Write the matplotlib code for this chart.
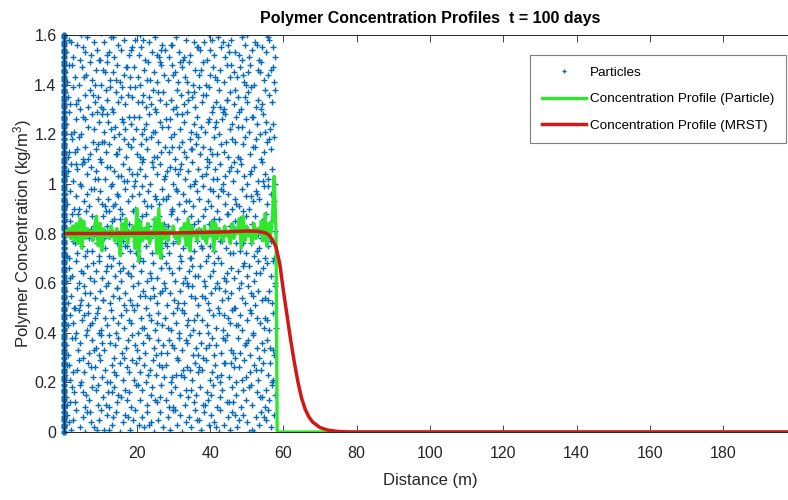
import numpy as np
import matplotlib
matplotlib.use('Agg')
import matplotlib.pyplot as plt
from matplotlib.ticker import FormatStrFormatter

plt.rcParams['font.family'] = ['Liberation Sans', 'DejaVu Sans']
plt.rcParams['mathtext.default'] = 'regular'

# MRST concentration profile (m, kg/m^3)
mrst_x = [0, 10, 20, 30, 40, 45, 50, 53, 55, 56, 57, 58, 59, 60, 61, 62, 63, 64,
          65, 66, 67, 68, 70, 72, 75, 78, 100, 200]
mrst_c = [0.800, 0.800, 0.801, 0.802, 0.805, 0.807, 0.810, 0.809, 0.803, 0.795,
          0.775, 0.745, 0.68, 0.57, 0.47, 0.37, 0.28, 0.20, 0.135, 0.09, 0.06,
          0.04, 0.018, 0.008, 0.002, 0, 0, 0]

# particle-based profile, binned every 0.5 m up to the front
bin_x = list(np.arange(0, 57.1, 0.5))
bin_c = [0.80, 0.81, 0.79, 0.82, 0.78, 0.83, 0.77, 0.84, 0.76, 0.86,
         0.74, 0.85, 0.78, 0.82, 0.79, 0.81, 0.77, 0.83, 0.87, 0.75,
         0.84, 0.73, 0.82, 0.79, 0.81, 0.78, 0.83, 0.80, 0.77, 0.82,
         0.79, 0.71, 0.84, 0.78, 0.86, 0.76, 0.81, 0.79, 0.83, 0.74,
         0.90, 0.69, 0.85, 0.77, 0.82, 0.78, 0.84, 0.76, 0.81, 0.79,
         0.86, 0.72, 0.90, 0.70, 0.84, 0.78, 0.82, 0.77, 0.81, 0.80,
         0.83, 0.78, 0.80, 0.76, 0.82, 0.79, 0.84, 0.75, 0.86, 0.73,
         0.83, 0.79, 0.81, 0.77, 0.82, 0.80, 0.78, 0.83, 0.76, 0.81,
         0.79, 0.85, 0.73, 0.84, 0.78, 0.82, 0.80, 0.77, 0.83, 0.79,
         0.81, 0.76, 0.84, 0.78, 0.82, 0.80, 0.86, 0.74, 0.87, 0.77,
         0.83, 0.79, 0.81, 0.76, 0.84, 0.78, 0.82, 0.80, 0.85, 0.77,
         0.88, 0.75, 0.84, 0.79, 0.86]
front_x = [57.5, 58.0, 58.3, 200]
front_c = [1.03, 0.80, 0.0, 0.0]

# particle positions: x in 0.1 m, value in 0.01 kg/m^3
part_x = [
    4, 9, 21, 27, 33, 46, 52, 58, 71, 75, 84, 97, 101, 110, 118, 131, 136, 142, 155, 163, 168, 181, 189, 194, 206, 213, 221, 229, 240, 246, 259, 264, 272, 285, 291, 298, 310, 317, 322, 335, 343, 349, 358, 370, 376, 384, 397, 402, 411, 423, 428, 437, 449, 455, 461, 474, 480, 489, 501, 506, 514, 526, 533, 540, 552, 557, 566, 574, 15, 64, 124, 176, 233, 303, 364, 417, 468, 521, 547, 92,
    6, 10, 24, 29, 31, 44, 59, 62, 70, 88, 93, 95, 108, 121, 125, 139, 146, 150, 167, 172, 180, 183, 199, 210, 214, 227, 238, 241, 256, 262, 267, 281, 294, 300, 305, 319, 331, 334, 340, 356, 361, 373, 380, 392, 395, 409, 420, 426, 433, 445, 459, 463, 470, 484, 490, 497, 512, 515, 528, 536, 549, 553, 561, 570, 577, 17, 52, 79, 115, 158, 203, 249, 288, 347, 402, 451, 505, 543, 133, 385,
    3, 15, 19, 36, 41, 48, 57, 66, 81, 86, 99, 104, 113, 127, 132, 144, 153, 161, 174, 178, 192, 197, 208, 219, 225, 236, 244, 253, 269, 274, 279, 292, 307, 313, 326, 329, 338, 351, 359, 366, 379, 388, 399, 406, 414, 427, 431, 442, 452, 466, 471, 478, 493, 499, 508, 520, 531, 538, 545, 559, 564, 572, 26, 74, 118, 186, 231, 261, 297, 345, 371, 418, 457, 486, 525, 568, 9, 139, 320, 437,
    8, 12, 22, 39, 45, 53, 61, 69, 77, 90, 96, 106, 111, 123, 137, 141, 148, 159, 170, 176, 187, 201, 205, 216, 223, 234, 247, 252, 258, 271, 283, 289, 296, 309, 315, 324, 337, 344, 353, 362, 374, 381, 389, 404, 410, 416, 429, 440, 447, 456, 467, 475, 482, 495, 503, 510, 518, 529, 542, 548, 555, 563, 575, 30, 83, 128, 165, 195, 229, 266, 301, 333, 367, 396, 435, 462, 498, 534, 571, 102,
    2, 18, 25, 34, 43, 50, 63, 68, 73, 87, 91, 103, 112, 119, 129, 143, 149, 157, 166, 179, 185, 193, 204, 212, 220, 232, 239, 250, 257, 268, 278, 286, 299, 306, 316, 323, 336, 341, 354, 363, 369, 378, 391, 398, 407, 415, 425, 434, 448, 454, 460, 472, 483, 488, 500, 511, 517, 527, 535, 546, 556, 562, 573, 13, 56, 98, 135, 171, 215, 255, 293, 328, 357, 393, 439, 477, 509, 551, 579, 78,
    5, 11, 20, 32, 38, 49, 55, 67, 72, 85, 94, 100, 109, 117, 126, 134, 147, 152, 164, 169, 182, 190, 200, 209, 218, 226, 235, 243, 254, 263, 276, 282, 290, 302, 311, 318, 330, 339, 348, 360, 368, 377, 386, 394, 403, 413, 422, 432, 441, 450, 458, 469, 479, 487, 496, 504, 516, 523, 532, 541, 550, 560, 569, 576, 28, 60, 107, 145, 188, 222, 270, 312, 352, 387, 424, 465, 513, 558, 44, 248,
    7, 14, 23, 35, 42, 54, 65, 71, 80, 89, 98, 105, 116, 122, 130, 140, 151, 156, 162, 175, 184, 191, 202, 211, 217, 228, 237, 245, 255, 265, 273, 280, 295, 304, 314, 321, 332, 342, 350, 358, 372, 383, 390, 400, 408, 419, 430, 438, 446, 457, 464, 476, 485, 492, 502, 507, 519, 530, 537, 544, 554, 565, 578, 47, 84, 120, 177, 206, 240, 287, 325, 366, 410, 443, 490, 524, 571, 19, 154, 336,
    1, 16, 27, 37, 40, 51, 58, 70, 79, 92, 97, 110, 114, 128, 136, 145, 158, 163, 173, 181, 195, 203, 210, 224, 230, 242, 251, 259, 270, 277, 288, 298, 303, 317, 327, 335, 345, 355, 364, 375, 384, 393, 401, 412, 421, 433, 444, 451, 462, 470, 481, 494, 499, 512, 521, 533, 539, 550, 558, 567, 574, 31, 64, 88, 125, 168, 198, 235, 266, 309, 347, 379, 417, 455, 489, 527, 563, 10, 283, 426,
    4, 13, 22, 30, 44, 49, 61, 74, 78, 91, 101, 107, 118, 124, 133, 146, 153, 160, 171, 180, 189, 199, 207, 219, 226, 233, 246, 253, 261, 275, 284, 292, 301, 310, 322, 329, 340, 349, 361, 367, 380, 389, 397, 405, 418, 424, 436, 445, 453, 467, 473, 482, 491, 505, 514, 522, 531, 543, 552, 561, 570, 577, 39, 83, 139, 184, 214, 257, 296, 338, 375, 411, 459, 498, 540, 18, 115, 222, 356, 448,
    9, 17, 28, 33, 47, 56, 64, 69, 82, 93, 99, 112, 121, 129, 141, 147, 155, 167, 177, 186, 194, 205, 213, 221, 231, 239, 249, 260, 268, 279, 285, 297, 308, 316, 326, 334, 346, 354, 363, 371, 382, 395, 402, 409, 422, 429, 440, 449, 461, 468, 478, 487, 497, 506, 516, 525, 534, 547, 555, 566, 575, 3, 42, 76, 106, 150, 192, 228, 271, 311, 343, 385, 434, 472, 511, 559, 135, 252, 399, 528,
    6, 20, 26, 38, 45, 57, 63, 75, 86, 90, 102, 113, 119, 131, 138, 149, 161, 166, 178, 187, 196, 208, 215, 223, 236, 244, 254, 262, 273, 282, 291, 299, 313, 320, 331, 339, 351, 359, 368, 377, 388, 396, 407, 414, 427, 435, 442, 456, 463, 474, 484, 493, 501, 513, 520, 530, 541, 549, 557, 568, 576, 12, 51, 95, 127, 172, 201, 241, 277, 319, 357, 391, 420, 466, 508, 545, 34, 157, 304, 452,
    2, 11, 24, 31, 43, 52, 60, 72, 80, 89, 100, 106, 117, 125, 137, 143, 152, 164, 170, 183, 190, 200, 211, 218, 229, 238, 247, 258, 265, 276, 287, 294, 305, 315, 323, 333, 344, 352, 362, 373, 381, 392, 400, 411, 419, 431, 439, 450, 460, 469, 477, 490, 496, 509, 518, 526, 538, 546, 556, 565, 574, 36, 67, 111, 147, 176, 225, 255, 297, 328, 366, 404, 444, 483, 522, 561, 16, 94, 208, 347,
    8, 15, 29, 35, 48, 54, 66, 77, 84, 96, 104, 111, 122, 134, 140, 151, 159, 169, 180, 185, 198, 206, 214, 226, 234, 243, 252, 264, 270, 281, 290, 302, 309, 318, 330, 337, 348, 357, 365, 376, 385, 394, 405, 413, 423, 432, 441, 453, 459, 471, 480, 488, 498, 507, 517, 528, 535, 544, 553, 564, 572, 21, 58, 91, 130, 163, 193, 249, 286, 324, 361, 398, 436, 475, 514, 551, 4, 118, 221, 416,
    5, 19, 25, 40, 46, 59, 68, 73, 87, 94, 103, 115, 120, 132, 142, 148, 160, 168, 175, 188, 196, 204, 216, 224, 232, 245, 251, 263, 272, 280, 293, 300, 311, 321, 329, 341, 350, 358, 370, 378, 390, 397, 408, 417, 425, 437, 446, 455, 464, 476, 485, 494, 504, 512, 524, 532, 542, 550, 560, 569, 578, 33, 80, 109, 156, 182, 213, 259, 306, 339, 380, 428, 467, 500, 539, 12, 127, 240, 355, 447,
    3, 10, 23, 32, 42, 50, 62, 71, 79, 90, 101, 108, 119, 128, 136, 147, 155, 165, 174, 182, 193, 202, 210, 220, 231, 237, 248, 256, 267, 275, 284, 295, 304, 312, 324, 332, 342, 353, 360, 371, 380, 388, 399, 409, 418, 426, 438, 447, 454, 466, 474, 483, 492, 503, 510, 521, 531, 540, 548, 559, 567, 575, 16, 56, 85, 113, 170, 227, 262, 299, 336, 374, 413, 458, 497, 536, 572, 144, 318, 489,
    7, 14, 27, 36, 44, 53, 65, 74, 83, 92, 99, 110, 123, 130, 139, 150, 157, 166, 178, 186, 195, 205, 212, 222, 233, 241, 250, 260, 269, 278, 289, 297, 307, 316, 327, 335, 345, 355, 363, 372, 383, 391, 401, 410, 421, 430, 440, 449, 457, 468, 478, 486, 495, 506, 515, 523, 533, 543, 552, 562, 571, 578, 21, 60, 96, 134, 185, 217, 254, 292, 330, 368, 406, 451, 488, 527, 557, 118, 265, 435,
    12, 47, 81, 103, 140, 171, 209, 238, 274, 301, 339, 362, 398, 428, 463, 491, 525, 556, 28, 152, 246, 320, 415, 502, 568,
]
part_y = [
    3, 7, 1, 5, 9, 2, 6, 0, 8, 4, 2, 5, 9, 1, 7, 3, 6, 8, 0, 4, 7, 1, 5, 9, 3, 6, 2, 8, 4, 0, 5, 8, 2, 6, 1, 9, 3, 7, 0, 4, 6, 2, 9, 5, 1, 8, 3, 7, 4, 0, 9, 3, 6, 1, 8, 2, 5, 7, 4, 0, 1, 6, 3, 8, 5, 9, 2, 7, 4, 8, 1, 6, 3, 9, 5, 2, 7, 0, 6, 1,
    14, 11, 18, 16, 12, 19, 10, 15, 13, 17, 11, 19, 14, 16, 10, 18, 12, 15, 17, 13, 16, 10, 19, 13, 17, 11, 15, 18, 12, 14, 19, 13, 16, 10, 18, 15, 11, 17, 14, 12, 15, 18, 11, 16, 13, 19, 10, 14, 17, 12, 18, 12, 15, 10, 17, 13, 19, 11, 16, 14, 10, 17, 13, 19, 15, 12, 16, 18, 11, 14, 19, 13, 10, 17, 15, 12, 18, 14, 16, 11,
    23, 27, 21, 25, 29, 20, 24, 28, 22, 26, 29, 22, 25, 20, 27, 23, 28, 21, 26, 24, 21, 28, 24, 27, 20, 25, 29, 23, 26, 22, 27, 20, 23, 29, 25, 22, 26, 21, 28, 24, 25, 29, 21, 24, 27, 20, 23, 28, 22, 26, 20, 26, 29, 22, 24, 27, 21, 25, 28, 23, 28, 21, 24, 26, 20, 29, 23, 27, 22, 25, 26, 22, 28, 21, 25, 20, 27, 24, 23, 28,
    35, 31, 38, 33, 36, 30, 39, 32, 37, 34, 31, 36, 33, 39, 30, 35, 38, 32, 34, 37, 39, 33, 30, 36, 32, 38, 34, 31, 37, 35, 32, 37, 35, 30, 38, 33, 36, 39, 31, 34, 36, 30, 34, 38, 31, 35, 32, 37, 39, 33, 30, 38, 32, 35, 37, 31, 39, 34, 36, 33, 37, 34, 31, 38, 33, 36, 30, 35, 39, 32, 34, 37, 31, 35, 38, 32, 36, 30, 33, 39,
    42, 47, 44, 40, 49, 45, 41, 48, 43, 46, 48, 41, 46, 43, 49, 40, 44, 47, 42, 45, 44, 49, 40, 46, 42, 47, 45, 41, 48, 43, 46, 42, 48, 44, 40, 49, 43, 45, 41, 47, 40, 45, 43, 49, 47, 42, 48, 41, 46, 44, 49, 43, 47, 41, 45, 48, 40, 46, 44, 42, 45, 41, 48, 43, 47, 40, 46, 49, 42, 44, 41, 48, 45, 40, 47, 43, 49, 46, 42, 44,
    57, 52, 55, 50, 58, 53, 59, 51, 56, 54, 50, 57, 53, 59, 52, 55, 58, 54, 51, 56, 53, 59, 51, 55, 57, 50, 54, 58, 52, 56, 58, 51, 56, 53, 50, 57, 52, 59, 55, 54, 51, 55, 59, 52, 56, 58, 50, 53, 57, 54, 56, 50, 58, 54, 52, 59, 55, 51, 57, 53, 54, 57, 52, 59, 50, 56, 53, 58, 51, 55, 57, 52, 59, 54, 58, 50, 56, 53, 51, 55,
    61, 66, 63, 69, 60, 64, 67, 62, 68, 65, 69, 62, 65, 60, 67, 63, 68, 61, 66, 64, 63, 67, 60, 65, 69, 61, 64, 68, 62, 66, 60, 68, 64, 61, 66, 69, 62, 65, 67, 63, 67, 61, 69, 63, 65, 60, 68, 62, 64, 66, 62, 65, 60, 68, 63, 67, 61, 69, 64, 66, 68, 63, 60, 65, 61, 67, 64, 69, 62, 66, 60, 63, 68, 61, 67, 64, 69, 62, 65, 60,
    74, 70, 77, 72, 79, 75, 71, 78, 73, 76, 71, 78, 74, 79, 70, 76, 72, 77, 75, 73, 77, 73, 70, 75, 78, 72, 79, 74, 71, 76, 72, 76, 79, 71, 74, 78, 70, 73, 77, 75, 78, 71, 75, 73, 70, 77, 74, 79, 72, 76, 73, 79, 72, 76, 71, 74, 78, 70, 75, 77, 70, 76, 73, 79, 71, 75, 72, 78, 74, 77, 70, 74, 79, 72, 76, 73, 78, 71, 75, 77,
    86, 81, 88, 83, 80, 85, 89, 82, 87, 84, 80, 87, 83, 89, 85, 81, 86, 88, 82, 84, 89, 82, 85, 80, 88, 83, 86, 81, 87, 84, 83, 88, 80, 86, 82, 89, 84, 87, 81, 85, 87, 80, 84, 82, 89, 86, 81, 88, 83, 85, 82, 86, 89, 81, 84, 87, 80, 85, 88, 83, 85, 81, 88, 83, 86, 80, 87, 82, 89, 84, 81, 86, 83, 87, 80, 85, 89, 82, 84, 88,
    92, 97, 90, 95, 99, 93, 96, 91, 98, 94, 97, 91, 94, 99, 92, 96, 90, 98, 93, 95, 90, 96, 99, 93, 97, 91, 95, 92, 98, 94, 95, 90, 98, 92, 96, 93, 99, 91, 97, 94, 99, 93, 91, 97, 95, 98, 92, 96, 90, 94, 91, 98, 95, 90, 93, 97, 94, 99, 92, 96, 93, 96, 90, 98, 92, 95, 99, 91, 94, 97, 93, 90, 97, 92, 95, 99, 91, 94, 98, 96,
    103, 108, 101, 106, 100, 109, 104, 107, 102, 105, 109, 102, 107, 100, 105, 103, 108, 101, 106, 104, 101, 106, 109, 103, 100, 107, 104, 108, 102, 105, 107, 100, 104, 108, 102, 105, 109, 101, 106, 103, 104, 109, 102, 106, 108, 100, 103, 107, 101, 105, 108, 103, 100, 105, 107, 101, 109, 104, 102, 106, 100, 105, 108, 102, 107, 101, 104, 109, 103, 106, 100, 107, 102, 109, 104, 101, 108, 103, 106, 105,
    116, 111, 118, 113, 119, 110, 115, 112, 117, 114, 110, 117, 113, 116, 119, 112, 114, 118, 111, 115, 118, 112, 116, 110, 114, 119, 111, 117, 113, 115, 113, 119, 110, 115, 117, 111, 118, 114, 116, 112, 115, 110, 114, 119, 112, 116, 113, 111, 118, 117, 111, 116, 119, 112, 115, 118, 110, 113, 117, 114, 119, 114, 110, 117, 112, 116, 118, 111, 115, 113, 119, 112, 117, 110, 115, 118, 113, 116, 111, 114,
    124, 129, 121, 126, 120, 127, 123, 128, 122, 125, 128, 121, 125, 129, 123, 120, 126, 122, 127, 124, 122, 127, 120, 124, 128, 121, 129, 125, 123, 126, 126, 120, 128, 122, 125, 129, 121, 124, 127, 123, 121, 125, 129, 123, 120, 126, 128, 122, 124, 127, 129, 123, 126, 121, 127, 124, 120, 128, 125, 122, 124, 120, 126, 129, 122, 125, 127, 121, 123, 128, 120, 126, 129, 123, 127, 121, 124, 128, 122, 125,
    137, 132, 139, 134, 130, 136, 131, 138, 133, 135, 131, 138, 134, 130, 137, 133, 139, 132, 136, 135, 139, 133, 136, 131, 135, 138, 130, 134, 137, 132, 134, 130, 138, 136, 132, 137, 135, 131, 139, 133, 136, 139, 131, 133, 138, 130, 134, 137, 132, 135, 130, 135, 137, 139, 131, 134, 132, 138, 136, 133, 138, 132, 136, 130, 135, 139, 133, 137, 131, 134, 136, 131, 138, 133, 130, 135, 139, 132, 137, 134,
    145, 141, 148, 143, 140, 147, 144, 149, 142, 146, 140, 146, 149, 142, 145, 148, 141, 144, 147, 143, 147, 143, 140, 146, 149, 142, 145, 141, 148, 144, 142, 148, 145, 141, 147, 143, 149, 140, 146, 144, 149, 140, 144, 147, 142, 146, 141, 148, 143, 145, 143, 147, 141, 145, 148, 140, 146, 149, 142, 144, 146, 141, 148, 143, 140, 145, 147, 142, 149, 144, 141, 146, 143, 148, 140, 145, 147, 142, 149, 144,
    153, 158, 151, 156, 150, 155, 159, 152, 157, 154, 150, 157, 153, 159, 151, 156, 154, 158, 152, 155, 158, 152, 155, 150, 157, 153, 159, 151, 156, 154, 151, 156, 159, 153, 150, 158, 152, 157, 155, 154, 157, 150, 154, 152, 159, 155, 151, 156, 158, 153, 152, 159, 156, 151, 154, 157, 150, 155, 153, 158, 155, 151, 157, 153, 150, 159, 154, 158, 152, 156, 151, 155, 158, 153, 150, 156, 159, 152, 154, 157,
    162, 160, 165, 161, 163, 167, 160, 164, 162, 166, 161, 163, 160, 165, 162, 161, 164, 160, 166, 163, 161, 167, 162, 160, 164,
]

# particles sitting at the injection boundary (x = 0), value in 0.01 kg/m^3
inlet_y = [0, 2, 3, 5, 6, 8, 10, 11, 13, 14, 16, 17, 19, 21, 22, 24, 25, 27, 28, 30,
           32, 33, 35, 36, 38, 39, 41, 43, 44, 46, 47, 49, 50, 52, 54, 55, 57, 58, 60,
           61, 63, 65, 66, 68, 69, 71, 72, 74, 76, 77, 79, 80, 82, 83, 85, 87, 88, 90,
           91, 93, 94, 96, 98, 99, 101, 102, 104, 105, 107, 109, 110, 112, 113, 115,
           116, 118, 120, 121, 123, 124, 126, 127, 129, 131, 132, 134, 135, 137, 138,
           140, 142, 143, 145, 146, 148, 149, 151, 153, 154, 156, 157, 159, 160]

px = np.array(part_x) / 10.0
py = np.array(part_y) / 100.0
iy = np.array(inlet_y) / 100.0

fig = plt.figure(figsize=(7.88, 5.0), dpi=100)
ax = fig.add_axes([0.0806, 0.136, 0.930, 0.794])

blue = '#0a6cb8'
ax.plot(px, py, '+', color=blue, ms=4.5, mew=1.0, label='Particles')
ax.plot(np.zeros(len(iy)), iy, '+', color=blue, ms=4.2, mew=2.4, clip_on=False)
ax.plot(bin_x + front_x, bin_c + front_c, color='#2ee82e', lw=2.4,
        label='Concentration Profile (Particle)')
ax.plot(mrst_x, mrst_c, color='#d01818', lw=2.5,
        label='Concentration Profile (MRST)')

ax.set_xlim(0, 200)
ax.set_ylim(0, 1.6)
ax.set_xticks([20, 40, 60, 80, 100, 120, 140, 160, 180])
ax.set_yticks([0, 0.2, 0.4, 0.6, 0.8, 1.0, 1.2, 1.4, 1.6])
ax.yaxis.set_major_formatter(FormatStrFormatter('%g'))
ax.tick_params(direction='in', top=True, right=True, length=5, width=0.6,
               labelsize=11.5, colors='#262626')
ax.tick_params(axis='y', pad=5)
ax.tick_params(axis='x', pad=10)
for s in ax.spines.values():
    s.set_color('#262626')
    s.set_linewidth(0.7)

ax.set_xlabel('Distance (m)', fontsize=12, color='#262626', labelpad=9)
ax.set_ylabel('Polymer Concentration (kg/m$^3$)', fontsize=12, color='#262626')
ax.yaxis.set_label_coords(-0.040, 0.5)
ax.set_title('Polymer Concentration Profiles  t = 100 days', fontsize=11.5,
             fontweight='bold', pad=9)

leg = ax.legend(loc='upper right', bbox_to_anchor=(0.986, 0.95), borderaxespad=0,
                fontsize=9.7, fancybox=False, framealpha=1, edgecolor='#7f7f7f',
                handlelength=3.25, handletextpad=0.35, labelspacing=1.05,
                borderpad=0.85, markerscale=0.7)
leg.get_frame().set_linewidth(0.8)

fig.savefig('out.png', dpi=100)
